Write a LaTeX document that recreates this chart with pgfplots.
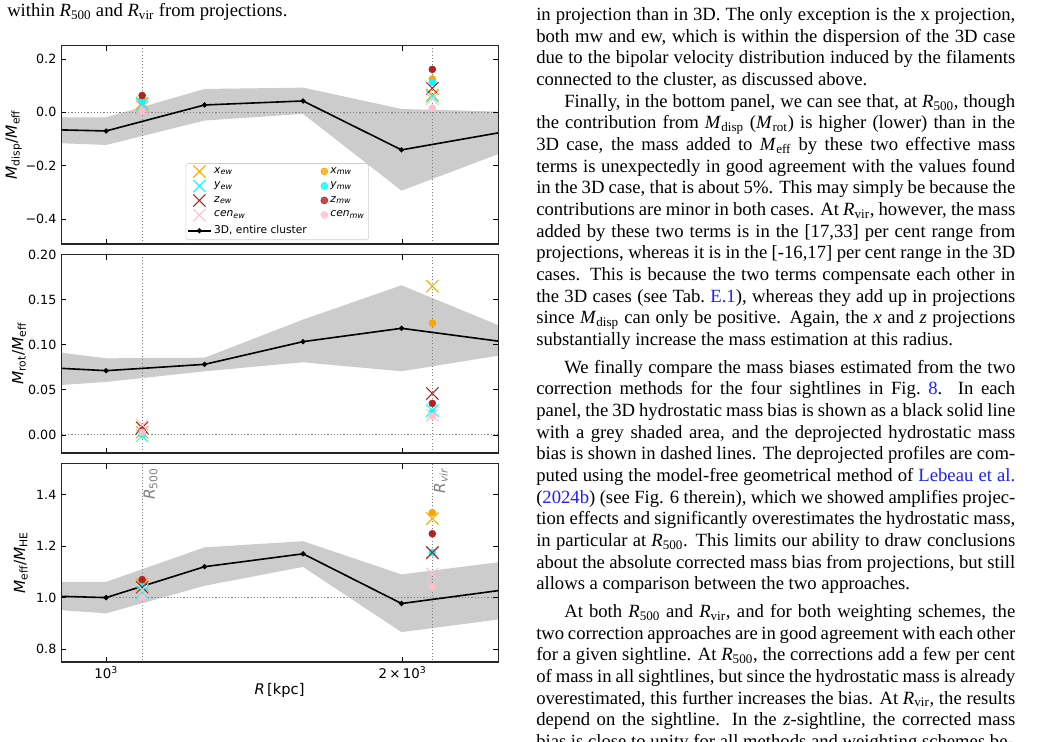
\documentclass[border=0pt]{standalone}
\usepackage{fontspec}
\setmainfont{Liberation Serif}
\newfontfamily\dv{DejaVu Sans}
\usepackage{pgfplots}
\pgfplotsset{compat=1.18}
\definecolor{cOr}{HTML}{FFA500}
\definecolor{cCy}{HTML}{00FFFF}
\definecolor{cFb}{HTML}{B22222}
\definecolor{cPk}{HTML}{FFC0CB}
\definecolor{band}{HTML}{CCCCCC}
\definecolor{lnk}{RGB}{30,30,255}
\newcommand{\R}[1]{\textit{R}\textsubscript{#1}}
\newcommand{\M}[1]{\textit{M}\textsubscript{#1}}
\newcommand{\lwb}[1]{\makebox[78pt][l]{#1}}
\tikzset{
  mycr/.style={only marks, mark=x, mark size=6.5pt, line width=0.75pt, color=#1, mark options={solid}},
  myci/.style={only marks, mark=*, mark size=2.6pt, color=#1, mark options={fill=#1, draw=#1}},
  myref/.style={draw=gray, dash pattern=on 0.8pt off 1.6pt, line width=0.7pt},
  mythd/.style={black, line width=1.2pt, mark=*, mark size=1.25pt},
}
\begin{document}
\begin{tikzpicture}
\path[use as bounding box] (0pt,0pt) rectangle (792pt,556.5pt);

\node[anchor=base west, inner sep=0] at (5.25pt,544pt) {\fontsize{14}{16.25}\selectfont within \R{500} and \R{vir} from projections.};

\begin{scope}
\clip (0pt,0pt) rectangle (792pt,556.5pt);
\node[anchor=base west, inner sep=0] at (402pt,541pt) {\begin{minipage}[t]{359.25pt}\fontsize{14}{16.25}\selectfont
\setlength{\parindent}{1.5em}\hyphenpenalty=10000\exhyphenpenalty=10000\tolerance=10000\emergencystretch=0pt
\noindent in projection than in 3D. The only exception is the x projection,\linebreak
both mw and ew, which is within the dispersion of the 3D case\linebreak
due to the bipolar velocity distribution induced by the filaments\linebreak
connected to the cluster, as discussed above.\par
Finally, in the bottom panel, we can see that, at \R{500}, though\linebreak
the contribution from \M{disp} (\M{rot}) is higher (lower) than in the\linebreak
3D case, the mass added to \M{eff} by these two effective mass\linebreak
terms is unexpectedly in good agreement with the values found\linebreak
in the 3D case, that is about 5\%. This may simply be because the\linebreak
contributions are minor in both cases. At \R{vir}, however, the mass\linebreak
added by these two terms is in the [17,33] per cent range from\linebreak
projections, whereas it is in the [-16,17] per cent range in the 3D\linebreak
cases. This is because the two terms compensate each other in\linebreak
the 3D cases (see Tab.~\textcolor{lnk}{E.1}), whereas they add up in projections\linebreak
since \M{disp} can only be positive. Again, the \textit{x} and \textit{z} projections\linebreak
substantially increase the mass estimation at this radius.\par
\vspace{4.4pt}
We finally compare the mass biases estimated from the two\linebreak
correction methods for the four sightlines in Fig.~\textcolor{lnk}{8}. In each\linebreak
panel, the 3D hydrostatic mass bias is shown as a black solid line\linebreak
with a grey shaded area, and the deprojected hydrostatic mass\linebreak
bias is shown in dashed lines. The deprojected profiles are com-\linebreak
puted using the model-free geometrical method of \textcolor{lnk}{Lebeau et al.}\linebreak
(\textcolor{lnk}{2024b}) (see Fig. 6 therein), which we showed amplifies projec-\linebreak
tion effects and significantly overestimates the hydrostatic mass,\linebreak
in particular at \R{500}. This limits our ability to draw conclusions\linebreak
about the absolute corrected mass bias from projections, but still\linebreak
allows a comparison between the two approaches.\par
\vspace{4.4pt}
At both \R{500} and \R{vir}, and for both weighting schemes, the\linebreak
two correction approaches are in good agreement with each other\linebreak
for a given sightline. At \R{500}, the corrections add a few per cent\linebreak
of mass in all sightlines, but since the hydrostatic mass is already\linebreak
overestimated, this further increases the bias. At \R{vir}, the results\linebreak
depend on the sightline. In the \textit{z}-sightline, the corrected mass\linebreak
bias is close to unity for all methods and weighting schemes be-\par
\end{minipage}};
\end{scope}

% ---------------- Panel 1
\begin{axis}[at={(45.75pt,373.5pt)}, anchor=south west,
  scale only axis, width=327.75pt, height=148.75pt,
  xmode=log, xmin=900, xmax=2500,
  xtick={1000,2000}, xticklabels={},
  tick align=inside, major tick length=3.75pt,
  tick style={black, line width=0.6pt},
  axis line style={line width=0.8pt, black!85},
  yticklabel style={font=\dv\fontsize{9.5}{11}\selectfont},
  axis on top,
  ymin=-0.494, ymax=0.25,
  ytick={-0.4,-0.2,0,0.2}, yticklabels={−0.4,−0.2,0.0,0.2},
  ylabel={\M{disp}/\M{eff}},
  ylabel style={font=\dv\fontsize{11.5}{13}\selectfont, anchor=center, at={(axis description cs:-0.108,0.5)}},
  legend columns=2, legend cell align=left,
  legend style={at={(axis description cs:0.285,0.02)}, anchor=south west,
    draw=black!20, rounded corners=2pt, fill=white, fill opacity=0.8, text opacity=1,
    font=\dv\fontsize{8}{9}\selectfont, inner sep=1pt, row sep=1pt},
]
\addplot[fill=band, draw=none, forget plot] coordinates {
 (794.3,-0.019) (1000,-0.019) (1258.9,0.0875) (1584.9,0.0925) (1995.3,0.0125) (2511.9,0.0025)
 (2511.9,-0.154) (1995.3,-0.294) (1584.9,-0.006) (1258.9,-0.031) (1000,-0.1225) (794.3,-0.1083)} -- cycle;
\addplot[myref, forget plot] coordinates {(800,0) (3000,0)};
\addplot[myref, forget plot] coordinates {(1088,-1) (1088,1)};
\addplot[myref, forget plot] coordinates {(2144,-1) (2144,1)};
\addplot[mythd, forget plot] coordinates {(794.3,-0.0613) (1000,-0.070) (1258.9,0.0275) (1584.9,0.0425) (1995.3,-0.141) (2511.9,-0.076)};
\addplot[mycr=cOr, forget plot] coordinates {(1088,0.035) (2144,0.065)};
\addplot[myci=cOr, forget plot] coordinates {(1088,0.050) (2144,0.125)};
\addplot[mycr=cCy, forget plot] coordinates {(1088,0.030) (2144,0.060)};
\addplot[myci=cCy, forget plot] coordinates {(1088,0.040) (2144,0.112)};
\addplot[mycr=cFb, forget plot] coordinates {(1088,0.020) (2144,0.090)};
\addplot[myci=cFb, forget plot] coordinates {(1088,0.063) (2144,0.161)};
\addplot[mycr=cPk, forget plot] coordinates {(1088,0.020) (2144,0.050)};
\addplot[myci=cPk, forget plot] coordinates {(1088,0.005) (2144,0.016)};
\addlegendimage{only marks, mark=x, mark size=6.5pt, line width=0.75pt, color=cOr}\addlegendentry{\lwb{\textit{x}\textsubscript{\textit{ew}}}}
\addlegendimage{only marks, mark=*, mark size=2.6pt, color=cOr, fill=cOr}\addlegendentry{\textit{x}\textsubscript{\textit{mw}}}
\addlegendimage{only marks, mark=x, mark size=6.5pt, line width=0.75pt, color=cCy}\addlegendentry{\lwb{\textit{y}\textsubscript{\textit{ew}}}}
\addlegendimage{only marks, mark=*, mark size=2.6pt, color=cCy, fill=cCy}\addlegendentry{\textit{y}\textsubscript{\textit{mw}}}
\addlegendimage{only marks, mark=x, mark size=6.5pt, line width=0.75pt, color=cFb}\addlegendentry{\lwb{\textit{z}\textsubscript{\textit{ew}}}}
\addlegendimage{only marks, mark=*, mark size=2.6pt, color=cFb, fill=cFb}\addlegendentry{\textit{z}\textsubscript{\textit{mw}}}
\addlegendimage{only marks, mark=x, mark size=6.5pt, line width=0.75pt, color=cPk}\addlegendentry{\lwb{\textit{cen}\textsubscript{\textit{ew}}}}
\addlegendimage{only marks, mark=*, mark size=2.6pt, color=cPk, fill=cPk}\addlegendentry{\textit{cen}\textsubscript{\textit{mw}}}
\addlegendimage{black, line width=1.2pt, mark=*, mark size=1.25pt}\addlegendentry{\lwb{3D, entire cluster}}
\end{axis}

% ---------------- Panel 2
\begin{axis}[at={(45.75pt,216.75pt)}, anchor=south west,
  scale only axis, width=327.75pt, height=148.75pt,
  xmode=log, xmin=900, xmax=2500,
  xtick={1000,2000}, xticklabels={},
  tick align=inside, major tick length=3.75pt,
  tick style={black, line width=0.6pt},
  axis line style={line width=0.8pt, black!85},
  yticklabel style={font=\dv\fontsize{9.5}{11}\selectfont},
  axis on top,
  ymin=-0.02, ymax=0.20,
  ytick={0,0.05,0.10,0.15,0.20}, yticklabels={0.00,0.05,0.10,0.15,0.20},
  ylabel={\M{rot}/\M{eff}},
  ylabel style={font=\dv\fontsize{11.5}{13}\selectfont, anchor=center, at={(axis description cs:-0.096,0.5)}},
]
\addplot[fill=band, draw=none, forget plot] coordinates {
 (794.3,0.0988) (1000,0.085) (1258.9,0.0857) (1584.9,0.128) (1995.3,0.166) (2511.9,0.121)
 (2511.9,0.0883) (1995.3,0.0706) (1584.9,0.0806) (1258.9,0.0706) (1000,0.0588) (794.3,0.0514)} -- cycle;
\addplot[myref, forget plot] coordinates {(800,0) (3000,0)};
\addplot[myref, forget plot] coordinates {(1088,-1) (1088,1)};
\addplot[myref, forget plot] coordinates {(2144,-1) (2144,1)};
\addplot[mythd, forget plot] coordinates {(794.3,0.077) (1000,0.0713) (1258.9,0.0783) (1584.9,0.1035) (1995.3,0.1183) (2511.9,0.1038)};
\addplot[mycr=cOr, forget plot] coordinates {(1088,0.003) (2144,0.165)};
\addplot[myci=cOr, forget plot] coordinates {(1088,0.004) (2144,0.124)};
\addplot[mycr=cCy, forget plot] coordinates {(1088,-0.001) (2144,0.027)};
\addplot[myci=cCy, forget plot] coordinates {(1088,0.001) (2144,0.025)};
\addplot[mycr=cFb, forget plot] coordinates {(1088,0.008) (2144,0.046)};
\addplot[myci=cFb, forget plot] coordinates {(1088,0.006) (2144,0.035)};
\addplot[mycr=cPk, forget plot] coordinates {(1088,0.011) (2144,0.022)};
\addplot[myci=cPk, forget plot] coordinates {(1088,0.003) (2144,0.021)};
\end{axis}

% ---------------- Panel 3
\begin{axis}[at={(45.75pt,60pt)}, anchor=south west,
  scale only axis, width=327.75pt, height=148.75pt,
  xmode=log, xmin=900, xmax=2500,
  xtick={1000,2000},
  tick align=inside, major tick length=3.75pt,
  tick style={black, line width=0.6pt},
  axis line style={line width=0.8pt, black!85},
  yticklabel style={font=\dv\fontsize{9.5}{11}\selectfont},
  axis on top,
  ymin=0.75, ymax=1.52,
  ytick={0.8,1.0,1.2,1.4}, yticklabels={0.8,1.0,1.2,1.4},
  ylabel={\M{eff}/\M{HE}},
  ylabel style={font=\dv\fontsize{11.5}{13}\selectfont, anchor=center, at={(axis description cs:-0.092,0.5)}},
  xticklabels={{10\textsuperscript{3}},{2\,×\,10\textsuperscript{3}}},
  xticklabel style={font=\dv\fontsize{10}{12}\selectfont},
  xlabel={\textit{R}\,[kpc]},
  xlabel style={font=\dv\fontsize{11}{13}\selectfont, at={(axis description cs:0.5,-0.145)}, anchor=center},
]
\addplot[fill=band, draw=none, forget plot] coordinates {
 (794.3,1.061) (1000,1.061) (1258.9,1.195) (1584.9,1.219) (1995.3,1.090) (2511.9,1.138)
 (2511.9,0.916) (1995.3,0.866) (1584.9,1.119) (1258.9,1.046) (1000,0.939) (794.3,0.9652)} -- cycle;
\addplot[myref, forget plot] coordinates {(800,1) (3000,1)};
\addplot[myref, forget plot] coordinates {(1088,0) (1088,2)};
\addplot[myref, forget plot] coordinates {(2144,0) (2144,2)};
\addplot[mythd, forget plot] coordinates {(794.3,1.0109) (1000,1.0) (1258.9,1.12) (1584.9,1.170) (1995.3,0.977) (2511.9,1.028)};
\addplot[mycr=cOr, forget plot] coordinates {(1088,1.050) (2144,1.307)};
\addplot[myci=cOr, forget plot] coordinates {(1088,1.060) (2144,1.330)};
\addplot[mycr=cCy, forget plot] coordinates {(1088,1.020) (2144,1.172)};
\addplot[myci=cCy, forget plot] coordinates {(1088,1.043) (2144,1.175)};
\addplot[mycr=cFb, forget plot] coordinates {(1088,1.040) (2144,1.175)};
\addplot[myci=cFb, forget plot] coordinates {(1088,1.070) (2144,1.248)};
\addplot[mycr=cPk, forget plot] coordinates {(1088,1.030) (2144,1.092)};
\addplot[myci=cPk, forget plot] coordinates {(1088,1.000) (2144,1.041)};
\node[rotate=90, anchor=north east, inner sep=1pt, xshift=2.5pt, text=gray, font=\dv\fontsize{11.5}{13}\selectfont] at (axis cs:1088,1.497) {\textit{R}\textsubscript{500}};
\node[rotate=90, anchor=north east, inner sep=1pt, xshift=2.5pt, text=gray, font=\dv\fontsize{11.5}{13}\selectfont] at (axis cs:2144,1.497) {\textit{R}\textsubscript{\textit{vir}}};
\end{axis}
\end{tikzpicture}
\end{document}
